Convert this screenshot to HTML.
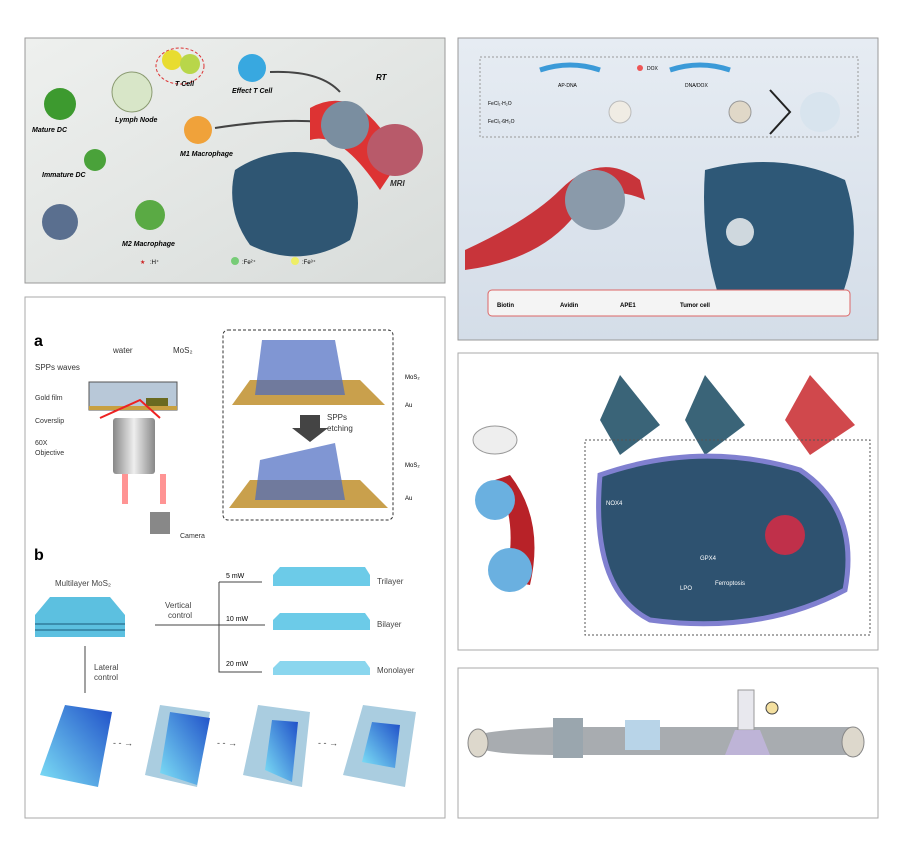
<!DOCTYPE html>
<html><head><meta charset="utf-8"><style>
body{margin:0;background:#fff;}
svg{display:block;font-family:"Liberation Sans",sans-serif;}
</style></head><body>
<svg width="900" height="850" viewBox="0 0 900 850" xmlns="http://www.w3.org/2000/svg">
<defs>
<linearGradient id="g1" x1="0" y1="0" x2="1" y2="1"><stop offset="0" stop-color="#eef0ee"/><stop offset="1" stop-color="#d8dcda"/></linearGradient>
<linearGradient id="g2" x1="0" y1="0" x2="0" y2="1"><stop offset="0" stop-color="#e6ecf3"/><stop offset="1" stop-color="#d4dde8"/></linearGradient>
<linearGradient id="blu" x1="0" y1="1" x2="1" y2="0"><stop offset="0" stop-color="#7fe3f7"/><stop offset="1" stop-color="#1f4fc8"/></linearGradient>
<radialGradient id="cell" cx=".5" cy=".5" r=".5"><stop offset="0" stop-color="#4a6e8a"/><stop offset="1" stop-color="#243a58"/></radialGradient>
<linearGradient id="lens" x1="0" x2="1"><stop offset="0" stop-color="#888"/><stop offset=".5" stop-color="#eee"/><stop offset="1" stop-color="#888"/></linearGradient>
</defs>

<!-- Panel 1 -->
<rect x="25" y="38" width="420" height="245" fill="url(#g1)" stroke="#999"/>
<circle cx="60" cy="104" r="16" fill="#3d9a2f"/><text x="32" y="132" font-size="7" font-style="italic" font-weight="bold">Mature DC</text>
<circle cx="95" cy="160" r="11" fill="#4aa23a"/><text x="42" y="177" font-size="7" font-style="italic" font-weight="bold">Immature DC</text>
<circle cx="60" cy="222" r="18" fill="#5a6f8f"/>
<circle cx="150" cy="215" r="15" fill="#5aaa44"/><text x="122" y="246" font-size="7" font-style="italic" font-weight="bold">M2 Macrophage</text>
<circle cx="132" cy="92" r="20" fill="#d8e6c8" stroke="#8a9a70"/><text x="115" y="122" font-size="7" font-style="italic" font-weight="bold">Lymph Node</text>
<ellipse cx="180" cy="66" rx="24" ry="18" fill="none" stroke="#d33" stroke-dasharray="3,2"/>
<circle cx="172" cy="60" r="10" fill="#e8dc30"/><circle cx="190" cy="64" r="10" fill="#b8d64a"/><text x="175" y="86" font-size="7" font-style="italic" font-weight="bold">T Cell</text>
<circle cx="252" cy="68" r="14" fill="#38a8e0"/><text x="232" y="93" font-size="7" font-style="italic" font-weight="bold">Effect T Cell</text>
<circle cx="198" cy="130" r="14" fill="#f0a23a"/><text x="180" y="156" font-size="7" font-style="italic" font-weight="bold">M1 Macrophage</text>
<path d="M270 72 Q320 70 340 92" stroke="#444" stroke-width="2" fill="none"/>
<path d="M215 128 Q280 118 320 122" stroke="#444" stroke-width="2" fill="none"/>
<path d="M310 108 Q360 80 400 160 L380 190 Q340 130 310 140 Z" fill="#d33"/>
<circle cx="345" cy="125" r="24" fill="#7a8ea0"/>
<ellipse cx="395" cy="150" rx="28" ry="26" fill="#b85a6a"/>
<text x="376" y="80" font-size="8" font-style="italic" font-weight="bold">RT</text>
<text x="390" y="186" font-size="8" font-style="italic" font-weight="bold" fill="#333">MRI</text>
<path d="M235 170 Q280 140 340 160 Q370 190 350 240 Q300 270 250 245 Q225 210 235 170Z" fill="#2f5673"/>
<text x="140" y="264" font-size="6" fill="#c22">★</text><text x="150" y="264" font-size="6">:H⁺</text>
<circle cx="235" cy="261" r="4" fill="#7c7"/><text x="242" y="264" font-size="6">:Fe²⁺</text>
<circle cx="295" cy="261" r="4" fill="#ee6"/><text x="302" y="264" font-size="6">:Fe³⁺</text>

<!-- Panel 2 -->
<rect x="458" y="38" width="420" height="302" fill="url(#g2)" stroke="#999"/>
<rect x="480" y="57" width="378" height="80" fill="none" stroke="#999" stroke-dasharray="2,2"/>
<path d="M540 70 Q570 60 600 70" stroke="#3b9ad8" stroke-width="5" fill="none"/><text x="558" y="87" font-size="5">AP-DNA</text>
<circle cx="640" cy="68" r="3" fill="#e55"/><text x="647" y="70" font-size="5">DOX</text>
<path d="M670 70 Q700 60 730 70" stroke="#3b9ad8" stroke-width="5" fill="none"/><text x="685" y="87" font-size="5">DNA/DOX</text>
<text x="488" y="105" font-size="5">FeCl₂·H₂O</text><text x="488" y="123" font-size="5">FeCl₃·6H₂O</text>
<circle cx="620" cy="112" r="11" fill="#f0ece4" stroke="#bbb"/>
<circle cx="740" cy="112" r="11" fill="#e0d8c8" stroke="#999"/>
<path d="M770 90 L790 112 L770 134" stroke="#222" stroke-width="2" fill="none"/>
<circle cx="820" cy="112" r="20" fill="#d8e4ee"/>
<path d="M465 250 Q530 220 560 190 Q600 150 640 180 L645 200 Q600 180 575 215 Q540 260 465 270Z" fill="#c8343a"/>
<circle cx="595" cy="200" r="30" fill="#8a9aaa"/>
<path d="M705 170 Q780 150 845 180 Q865 240 840 300 Q780 320 720 300 Q700 240 705 170Z" fill="#2e5877"/>
<circle cx="740" cy="232" r="14" fill="#cfd8de"/>
<rect x="488" y="290" width="362" height="26" rx="4" fill="#f4f4f4" stroke="#d66"/>
<text x="497" y="307" font-size="6" font-weight="bold">Biotin</text><text x="560" y="307" font-size="6" font-weight="bold">Avidin</text>
<text x="620" y="307" font-size="6" font-weight="bold">APE1</text><text x="680" y="307" font-size="6" font-weight="bold">Tumor cell</text>

<!-- Panel 3 -->
<rect x="25" y="297" width="420" height="521" fill="#fff" stroke="#aaa"/>
<text x="34" y="346" font-size="16" font-weight="bold">a</text>
<text x="113" y="353" font-size="8" fill="#333">water</text>
<text x="173" y="353" font-size="8" fill="#333">MoS₂</text>
<text x="35" y="370" font-size="8" fill="#333">SPPs waves</text>
<text x="35" y="400" font-size="7" fill="#333">Gold film</text>
<text x="35" y="423" font-size="7" fill="#333">Coverslip</text>
<text x="35" y="445" font-size="7" fill="#333">60X</text><text x="35" y="455" font-size="7" fill="#333">Objective</text>
<rect x="89" y="382" width="88" height="28" fill="#b8c8d8" stroke="#555"/>
<rect x="89" y="406" width="88" height="4" fill="#c8a040"/>
<rect x="146" y="398" width="22" height="8" fill="#6a6a20"/>
<path d="M100 418 L140 400 L160 418" stroke="#e22" stroke-width="2" fill="none"/>
<rect x="113" y="418" width="42" height="56" rx="3" fill="url(#lens)"/>
<rect x="122" y="474" width="6" height="30" fill="#f66" opacity=".7"/><rect x="160" y="474" width="6" height="30" fill="#f66" opacity=".7"/>
<rect x="150" y="512" width="20" height="22" fill="#888"/><text x="180" y="538" font-size="7" fill="#333">Camera</text>
<rect x="223" y="330" width="170" height="190" rx="5" fill="none" stroke="#333" stroke-dasharray="3,2"/>
<polygon points="232,405 250,380 360,380 385,405" fill="#c9a04c"/>
<polygon points="255,395 262,340 335,340 345,395" fill="#4a6ac0" opacity=".7"/>
<polygon points="229,508 250,480 360,480 388,508" fill="#c9a04c"/>
<polygon points="255,500 260,460 335,443 345,500" fill="#4a6ac0" opacity=".7"/>
<polygon points="300,415 320,415 320,428 328,428 310,442 292,428 300,428" fill="#444"/>
<text x="327" y="420" font-size="8" fill="#333">SPPs</text><text x="327" y="431" font-size="8" fill="#333">etching</text>
<text x="405" y="379" font-size="6">MoS₂</text><text x="405" y="407" font-size="6">Au</text>
<text x="405" y="467" font-size="6">MoS₂</text><text x="405" y="500" font-size="6">Au</text>
<text x="34" y="560" font-size="16" font-weight="bold">b</text>
<text x="55" y="586" font-size="8" fill="#444">Multilayer MoS₂</text>
<polygon points="35,615 50,597 110,597 125,615 125,637 35,637" fill="#5cc0e0"/>
<line x1="35" y1="624" x2="125" y2="624" stroke="#1a5a7a"/><line x1="35" y1="630" x2="125" y2="630" stroke="#1a5a7a"/>
<text x="165" y="608" font-size="8" fill="#444">Vertical</text><text x="168" y="618" font-size="8" fill="#444">control</text>
<path d="M155 625 L265 625 M219 582 L219 672 L262 672 M219 582 L262 582 M219 625" stroke="#444" fill="none"/>
<text x="226" y="578" font-size="7">5 mW</text><text x="226" y="621" font-size="7">10 mW</text><text x="226" y="666" font-size="7">20 mW</text>
<polygon points="273,575 280,567 365,567 370,575 370,586 273,586" fill="#6ccbe8"/>
<polygon points="273,620 280,613 365,613 370,620 370,630 273,630" fill="#6ccbe8"/>
<polygon points="273,668 280,661 365,661 370,668 370,675 273,675" fill="#8ad6ee"/>
<text x="377" y="584" font-size="8" fill="#444">Trilayer</text><text x="377" y="627" font-size="8" fill="#444">Bilayer</text><text x="377" y="673" font-size="8" fill="#444">Monolayer</text>
<line x1="85" y1="646" x2="85" y2="693" stroke="#444"/>
<text x="94" y="670" font-size="8" fill="#444">Lateral</text><text x="94" y="680" font-size="8" fill="#444">control</text>
<polygon points="40,775 65,705 112,712 98,787" fill="url(#blu)"/>
<polygon points="145,775 160,705 210,712 197,787" fill="#aacde0"/><polygon points="160,773 170,712 210,718 197,785" fill="url(#blu)"/>
<polygon points="243,775 258,705 310,712 302,787" fill="#aacde0"/><polygon points="265,770 272,720 298,722 292,782" fill="url(#blu)"/>
<polygon points="343,775 363,705 416,712 405,787" fill="#aacde0"/><polygon points="362,762 372,722 400,725 395,768" fill="url(#blu)"/>
<text x="113" y="746" font-size="9" fill="#444">- - →</text><text x="217" y="746" font-size="9" fill="#444">- - →</text><text x="318" y="746" font-size="9" fill="#444">- - →</text>

<!-- Panel 4 -->
<rect x="458" y="353" width="420" height="297" fill="#fff" stroke="#aaa"/>
<polygon points="620,375 660,425 620,455 600,420" fill="#3a6478"/>
<polygon points="705,375 745,425 705,455 685,420" fill="#3a6478"/>
<polygon points="810,375 855,425 810,455 785,420" fill="#d0484c"/>
<ellipse cx="495" cy="440" rx="22" ry="14" fill="#eee" stroke="#999"/>
<path d="M495 480 Q520 520 505 580 L530 585 Q545 520 510 475Z" fill="#b82228"/>
<circle cx="495" cy="500" r="20" fill="#6ab0e0"/><circle cx="510" cy="570" r="22" fill="#6ab0e0"/>
<rect x="585" y="440" width="285" height="195" fill="none" stroke="#555" stroke-dasharray="2,2"/>
<path d="M600 475 Q700 440 800 470 Q860 510 845 590 Q760 635 650 620 Q590 590 600 475Z" fill="#2e5270" stroke="#8080d0" stroke-width="5"/>
<circle cx="785" cy="535" r="20" fill="#c0304a"/>
<text x="606" y="505" font-size="6" fill="#fff">NOX4</text><text x="700" y="560" font-size="6" fill="#fff">GPX4</text>
<text x="715" y="585" font-size="6" fill="#fff">Ferroptosis</text><text x="680" y="590" font-size="6" fill="#fff">LPO</text>

<!-- Panel 5 -->
<rect x="458" y="668" width="420" height="150" fill="#fff" stroke="#aaa"/>
<path d="M475 737 Q480 730 560 727 L850 727 L860 755 L560 755 Q480 755 475 745Z" fill="#a8acb0"/>
<ellipse cx="478" cy="743" rx="10" ry="14" fill="#ddd8cc" stroke="#888"/>
<ellipse cx="853" cy="742" rx="11" ry="15" fill="#ddd8cc" stroke="#888"/>
<rect x="553" y="718" width="30" height="40" fill="#9aa6ae"/>
<rect x="625" y="720" width="35" height="30" fill="#b8d4e8"/>
<rect x="738" y="690" width="16" height="40" fill="#e8e8ee" stroke="#999"/>
<path d="M735 730 L760 730 L770 755 L725 755Z" fill="#c8b8e8" opacity=".7"/>
<circle cx="772" cy="708" r="6" fill="#f4e0a0" stroke="#444"/>
</svg>
</body></html>
